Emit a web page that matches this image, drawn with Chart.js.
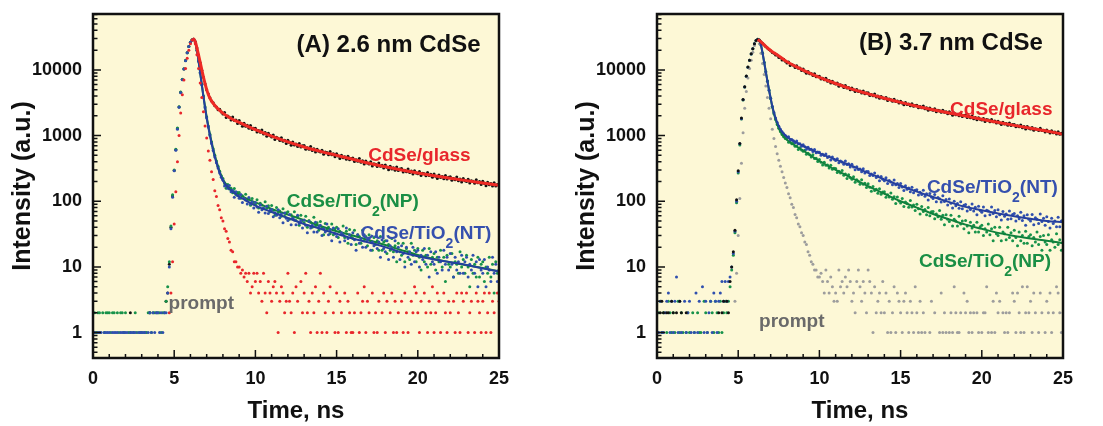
<!DOCTYPE html>
<html>
<head>
<meta charset="utf-8">
<script src="https://cdn.jsdelivr.net/npm/chart.js@4.4.1/dist/chart.umd.min.js"></script>
<style>
  html, body { margin: 0; padding: 0; background: #fff; }
  body { width: 1103px; height: 426px; position: relative; overflow: hidden; }
  canvas { position: absolute; top: 0; }
  #panelA { left: 0; }
  #panelB { left: 551px; }
</style>
</head>
<body>
<canvas id="panelA" width="551" height="426"></canvas>
<canvas id="panelB" width="552" height="426"></canvas>
<script>
const _ = null;
const timeStep = 0.1; // ns per channel, one row per ns

const xTickValues = [0, 5, 10, 15, 20, 25];
const yTickValues = [1, 10, 100, 1000, 10000];

// ---------- (A) 2.6 nm CdSe : counts per channel ----------
const glassA = [
  [_,_,_,_,_,_,_,_,_,_],
  [_,_,_,_,_,_,_,_,_,_],
  [_,_,_,2,_,_,_,_,_,_],
  [_,_,_,_,_,2,_,_,_,_],
  [_,_,_,_,_,3,4,11,40,120],
  [295,610,1280,2720,4550,7150,10350,13850,18250,22750],
  [26350,28650,29400,26800,21500,16800,12900,9900,7700,6100],
  [5000,4300,3750,3350,3150,2850,2730,2480,2520,2280],
  [2130,2240,1890,1990,1900,1730,1910,1690,1720,1530],
  [1690,1530,1390,1540,1390,1430,1290,1420,1240,1290],
  [1290,1130,1190,1120,1220,1060,1110,980,1080,990],
  [950,1020,870,940,910,840,930,820,845,760],
  [850,780,710,800,720,745,680,755,670,700],
  [705,620,655,620,680,595,630,560,620,575],
  [560,600,520,560,550,510,570,510,530,475],
  [530,488,447,503,458,474,435,484,428,449],
  [457,403,428,405,446,391,413,368,411,381],
  [369,398,345,373,366,339,381,342,354,320],
  [356,329,302,340,311,323,297,332,294,309],
  [315,279,297,281,310,273,289,259,290,270],
  [262,283,246,267,263,244,275,247,258,232],
  [260,241,222,250,229,239,220,246,219,231],
  [235,209,222,212,234,206,219,197,221,206],
  [200,216,189,205,202,188,212,191,199,180],
  [201,186,172,194,178,186,171,192,170,180],
  [174]
];
const ntA = [
  [1,1,_,1,1,1,_,1,1,1],
  [1,_,1,1,1,1,_,1,1,1],
  [1,1,_,1,1,1,1,_,1,1],
  [1,1,1,_,1,2,1,2,1,2],
  [2,1,2,1,2,2,4,10,38,115],
  [290,600,1250,2700,4500,7100,10300,13800,18200,22700],
  [26300,28600,29400,26500,19800,13600,9000,5900,3900,2650],
  [1850,1350,1000,760,590,470,385,320,270,232],
  [211,170,175,157,173,139,146,115,139,121],
  [111,127,96,110,104,91,114,91,97,79],
  [96,82,68,88,74,79,66,84,65,73],
  [75,58,67,61,74,56,64,47,66,55],
  [51,63,44,55,52,44,61,46,51,39],
  [52,43,33,49,39,43,34,48,34,41],
  [43,30,38,34,45,31,37,25,39,32],
  [29,38,24,33,31,25,39,27,31,22],
  [33,26,18,31,23,27,20,31,20,26],
  [27,18,24,21,29,19,24,14,26,19],
  [17,25,13,21,19,14,25,17,20,13],
  [21,16,10,20,14,17,11,20,12,17],
  [18,10,15,13,19,11,15,7,17,12],
  [11,17,8,14,12,9,18,11,14,9],
  [16,11,7,14,9,12,8,15,8,12],
  [14,7,11,9,15,8,12,5,13,9],
  [8,13,5,10,9,6,14,8,11,6],
  [9]
];
const npA = [
  [2,2,1,2,2,_,2,1,2,2],
  [2,1,2,2,_,2,1,2,2,1],
  [2,_,1,1,_,1,2,1,_,1],
  [1,_,1,1,2,2,1,2,2,2],
  [2,2,1,2,2,3,5,12,42,125],
  [300,620,1300,2750,4600,7200,10400,13900,18300,22800],
  [26400,28700,29400,26600,19900,13700,9100,6000,4000,2750],
  [1920,1400,1050,800,630,500,410,340,285,245],
  [221,187,158,180,154,157,135,156,127,136],
  [136,111,121,111,128,102,111,87,110,96],
  [90,105,79,93,88,77,98,78,85,69],
  [86,73,61,80,66,71,59,77,59,67],
  [69,53,62,56,69,51,59,43,61,51],
  [47,59,40,51,48,40,57,42,47,36],
  [49,40,31,46,36,40,32,45,31,38],
  [40,28,35,31,42,28,35,23,37,29],
  [27,36,22,31,29,23,36,25,29,21],
  [31,24,18,28,22,25,18,29,18,24],
  [25,16,22,18,27,17,21,12,23,17],
  [15,23,12,19,17,13,23,15,18,12],
  [19,14,9,18,12,15,10,19,11,14],
  [16,9,14,12,18,10,14,6,15,11],
  [10,16,7,12,11,8,17,10,13,8],
  [15,10,5,13,8,11,7,14,7,11],
  [12,6,10,8,14,7,11,4,12,8],
  [9]
];
const promptA = [
  [_,_,_,_,_,_,_,_,_,_],
  [_,_,_,_,_,_,_,_,_,_],
  [_,_,_,_,_,_,_,_,_,_],
  [_,_,_,_,_,_,_,_,_,_],
  [_,_,_,_,_,_,_,2,4,12],
  [45,140,400,1000,2200,4200,7000,10500,15000,20000],
  [25000,28500,29500,25000,17000,10500,6300,3800,2300,1400],
  [920,580,420,280,215,145,118,86,74,56],
  [50,38,35,27,24,18,17,12,12,10],
  [10,8,9,7,8,6,8,4,5,8],
  [6,8,4,6,3,8,4,2,6,4],
  [3,5,6,4,1,3,5,4,2,3],
  [8,3,2,4,1,5,3,_,6,2],
  [4,8,2,3,1,4,2,5,1,3],
  [8,1,4,2,1,3,5,_,2,1],
  [4,1,3,2,_,4,1,3,2,1],
  [1,2,_,4,1,2,3,5,1,3],
  [2,_,4,1,2,1,3,_,2,4],
  [1,3,_,2,4,1,3,1,2,_],
  [3,1,4,2,1,_,3,2,5,4],
  [2,1,3,_,4,2,1,3,2,5],
  [1,2,4,3,1,_,4,2,1,3],
  [2,_,3,1,4,2,1,4,3,_],
  [4,1,2,3,_,1,4,3,2,1],
  [3,4,1,2,4,1,3,2,_,4],
  [3]
];
// fitted decays (A)
const glassFitTimesA = [6.2, 6.3, 6.4, 6.5, 6.6, 6.7, 6.8, 6.9, 7.0, 7.1, 7.2, 7.4, 7.6, 7.8, 8.0, 8.4, 8.8, 9.2, 9.6, 10, 11, 12, 13, 14, 15, 16, 17, 18, 19, 20, 21, 22, 23, 24, 25];
const glassFitA = [29400, 26800, 21500, 16800, 13000, 10000, 7800, 6200, 5000, 4250, 3700, 3100, 2700, 2420, 2200, 1880, 1670, 1510, 1360, 1230, 980, 800, 670, 575, 500, 435, 380, 336, 300, 270, 245, 224, 206, 190, 175];
const fitTimesA = [6.2, 6.3, 6.4, 6.5, 6.6, 6.7, 6.8, 6.9, 7.0, 7.2, 7.4, 7.6, 7.8, 8.0, 8.4, 8.8, 9.2, 9.6, 10, 11, 12, 13, 14, 15, 16, 17, 18, 19, 20, 21, 22, 23, 24, 25];
const ntFitA = [29400, 26500, 19800, 13600, 9000, 5900, 3900, 2650, 1850, 1000, 590, 385, 270, 205, 154, 128, 110, 97, 86, 68.5, 55.5, 45, 38, 32, 27, 23.5, 20, 16.7, 14.5, 13, 11.8, 10.7, 9.5, 8.5];
const npFitA = [29400, 26600, 19900, 13700, 9100, 6000, 4000, 2750, 1920, 1050, 630, 410, 285, 215, 160, 136, 119, 106, 96, 76.5, 62.5, 51.5, 42, 35, 30, 25.5, 21.5, 18, 15.2, 13.2, 11.8, 10.6, 9.6, 8.6];

// ---------- (B) 3.7 nm CdSe : counts per channel ----------
const glassB = [
  [2,_,2,3,2,_,2,2,_,3],
  [2,_,2,_,3,2,_,_,2,_],
  [_,_,_,_,_,_,_,_,_,_],
  [_,_,_,_,_,_,_,_,2,_],
  [2,3,_,3,2,6,10,17,36,105],
  [290,760,1850,3550,5550,8050,11050,14050,17550,21050],
  [25050,28000,29000,28200,26900,25400,24000,22600,21500,20400],
  [19600,18400,18000,16900,16900,15500,15300,14100,14500,13500],
  [12700,13200,11700,12100,11800,10900,11600,10560,10660,9760],
  [10300,9550,8880,9490,8770,8850,8200,8720,7860,8020],
  [7970,7240,7450,7080,7450,6690,6900,6290,6710,6280],
  [6080,6320,5660,5930,5780,5400,5800,5320,5410,4990],
  [5300,4970,4670,5030,4680,4770,4460,4780,4340,4470],
  [4470,4090,4230,4050,4280,3880,4020,3690,3950,3720],
  [3630,3800,3420,3590,3520,3320,3580,3290,3370,3120],
  [3330,3130,2950,3180,2970,3030,2850,3060,2790,2880],
  [2900,2660,2760,2650,2810,2550,2650,2440,2630,2480],
  [2430,2550,2300,2440,2390,2260,2440,2260,2310,2150],
  [2300,2170,2040,2210,2070,2120,2000,2140,1960,2030],
  [2050,1880,1960,1870,1990,1810,1890,1740,1870,1770],
  [1730,1820,1640,1750,1720,1620,1750,1620,1660,1550],
  [1650,1550,1470,1590,1500,1530,1440,1550,1420,1470],
  [1480,1360,1410,1360,1450,1320,1380,1260,1370,1290],
  [1260,1330,1210,1270,1250,1190,1290,1190,1210,1130],
  [1220,1150,1090,1180,1100,1130,1060,1140,1050,1080],
  [1040]
];
const ntB = [
  [3,1,3,1,1,2,3,4,1,3],
  [1,3,7,1,3,1,_,3,1,2],
  [3,1,_,1,4,1,3,_,5,1],
  [3,1,2,3,1,4,3,1,3,4],
  [6,3,6,3,6,7,10,16,35,100],
  [280,750,1800,3500,5500,8000,11000,14000,17500,21000],
  [25000,28000,29400,28500,24000,18000,13000,9300,6700,4900],
  [3700,2800,2250,1850,1580,1390,1250,1140,1070,1000],
  [941,961,851,872,833,779,827,749,751,688],
  [724,673,621,666,614,617,572,613,548,562],
  [559,503,521,495,525,465,481,426,471,436],
  [418,445,385,410,395,367,409,362,371,333],
  [365,332,301,336,303,310,280,312,270,283],
  [283,246,261,246,270,229,242,205,239,216],
  [206,227,186,207,197,179,210,179,187,162],
  [186,165,146,172,152,159,139,164,135,147],
  [149,124,137,127,147,119,130,104,131,116],
  [110,127,98,114,109,97,121,99,106,88],
  [108,93,79,100,85,92,78,98,77,87],
  [89,71,82,75,91,71,81,62,84,72],
  [68,82,60,73,71,62,82,65,72,58],
  [74,62,52,70,59,64,53,71,54,63],
  [65,50,60,54,68,51,60,43,62,53],
  [50,63,44,56,53,46,64,49,55,43],
  [58,49,39,55,46,50,41,57,41,50],
  [52]
];
const npB = [
  [1,2,3,1,2,_,1,3,2,1],
  [2,1,_,3,1,2,1,_,1,2],
  [1,_,2,1,_,2,1,1,_,3],
  [2,1,_,3,2,1,3,2,1,3],
  [1,2,3,2,3,5,9,15,33,95],
  [270,720,1780,3480,5480,7980,10980,13980,17480,20980],
  [24980,27950,29300,28600,24100,18100,13100,9400,6800,4950],
  [3650,2720,2150,1760,1480,1290,1150,1040,960,900],
  [883,793,796,749,771,686,693,614,655,605],
  [575,599,519,539,512,470,509,449,453,404],
  [432,394,357,391,352,356,322,354,306,317],
  [314,273,287,269,293,249,261,221,254,229],
  [216,237,194,213,202,182,213,181,188,162],
  [184,163,142,168,146,152,132,155,128,138],
  [139,115,126,116,133,107,117,92,116,101],
  [94,110,83,97,92,81,103,82,88,72],
  [90,77,64,83,70,75,62,80,60,69],
  [70,54,64,58,72,53,61,44,62,53],
  [49,61,42,53,50,42,59,45,50,38],
  [51,42,33,48,39,43,34,48,34,41],
  [43,30,38,34,45,31,38,25,40,32],
  [30,40,25,34,32,26,40,28,33,25],
  [36,28,21,34,25,30,23,35,23,29],
  [31,21,28,24,34,22,29,18,30,24],
  [22,31,18,26,24,20,32,22,26,18],
  [24]
];
const promptB = [
  [_,_,_,_,_,_,_,_,_,_],
  [_,_,_,_,_,_,_,_,_,_],
  [_,_,_,_,_,_,_,_,_,_],
  [_,_,_,_,_,_,_,_,_,_],
  [_,_,_,_,_,_,_,_,3,8],
  [30,110,380,1100,2600,4700,7500,10500,14000,18500],
  [23500,27500,29000,25000,18000,12500,8500,5700,3800,2600],
  [1800,1250,900,680,530,420,340,280,230,190],
  [162,130,113,90,80,63,56,45,41,33],
  [30,24,22,17,15,12,11,9,9,7],
  [7,8,6,4,9,6,4,7,5,3],
  [4,3,9,5,6,4,7,5,9,6],
  [3,4,2,6,9,5,3,6,4,2],
  [9,6,4,1,5,2,3,4,2,6],
  [2,4,1,3,1,2,5,1,4,3],
  [2,1,3,4,2,1,3,2,1,5],
  [2,1,3,1,2,1,_,_,1,3],
  [_,2,_,_,1,4,1,2,1,_],
  [1,2,1,5,2,1,1,2,_,4],
  [2,3,1,2,1,2,_,2,1,_],
  [1,2,2,5,1,_,1,3,1,4],
  [2,3,_,2,1,2,1,2,_,4],
  [3,1,4,2,1,5,1,2,5,2],
  [3,1,4,2,_,1,4,2,_,1],
  [3,2,4,1,2,_,5,4,2,1],
  [2]
];
// fitted decays (B)
const glassFitTimesB = [6.2, 6.3, 6.4, 6.5, 6.6, 6.8, 7.0, 7.2, 7.5, 8, 8.5, 9, 9.5, 10, 11, 12, 13, 14, 15, 16, 17, 18, 19, 20, 21, 22, 23, 24, 25];
const glassFitB = [29000, 28000, 26800, 25400, 24000, 21600, 19700, 18200, 16300, 13300, 11400, 9900, 8720, 7700, 6200, 5100, 4320, 3700, 3200, 2800, 2480, 2210, 1980, 1770, 1590, 1430, 1290, 1170, 1050];
const fitTimesB = [6.2, 6.3, 6.4, 6.5, 6.6, 6.7, 6.8, 6.9, 7.0, 7.1, 7.3, 7.5, 7.7, 8.0, 8.5, 9, 9.5, 10, 11, 12, 13, 14, 15, 16, 17, 18, 19, 20, 21, 22, 23, 24, 25];
const ntFitB = [29400, 28500, 24000, 18000, 13000, 9300, 6700, 4900, 3700, 2800, 1850, 1390, 1140, 960, 805, 695, 610, 540, 430, 345, 270, 215, 172, 140, 116, 97, 82, 73, 65, 59, 54, 50, 48];
const npFitB = [29300, 28600, 24100, 18100, 13100, 9400, 6800, 4950, 3650, 2720, 1760, 1290, 1040, 860, 705, 590, 490, 410, 300, 225, 170, 130, 100, 80, 64, 53, 44, 38, 33, 29.5, 27, 25, 23];

// ---------- styling ----------
const FONT = "'Liberation Sans', Arial, Helvetica, sans-serif";
const INK = '#111111';
const PLOT_BG = '#fdf8d6';
const RED = '#e8262b';
const BLUE = '#2f4fae';
const GREEN = '#17924a';
const GRAY = '#9d9d9d';

function series(rows) {
  const pts = [];
  rows.forEach((row, r) => row.forEach((v, j) => {
    if (v !== null) pts.push({ x: +(r + j * timeStep).toFixed(1), y: v });
  }));
  return pts;
}
function curve(times, values) {
  return times.map((t, i) => ({ x: t, y: values[i] }));
}
function dots(rows, color, order) {
  return {
    data: series(rows), showLine: false, order,
    pointRadius: 1.5, pointHoverRadius: 0, pointBorderWidth: 0,
    pointBackgroundColor: color, borderColor: color
  };
}
function fitLine(times, values, color, width, order) {
  return {
    data: curve(times, values), showLine: true, order,
    borderColor: color, borderWidth: width, pointRadius: 0,
    cubicInterpolationMode: 'monotone'
  };
}

// plot background, frame and inward ticks
const framePlugin = {
  id: 'frame',
  beforeDatasetsDraw(chart) {
    const { ctx, chartArea: a } = chart;
    ctx.save();
    ctx.fillStyle = PLOT_BG;
    ctx.fillRect(a.left, a.top, a.right - a.left, a.bottom - a.top);
    ctx.restore();
  },
  afterDatasetsDraw(chart) {
    const { ctx, chartArea: a, scales: { x, y } } = chart;
    ctx.save();
    ctx.strokeStyle = INK;
    ctx.lineWidth = 1.5;
    ctx.beginPath();
    for (let t = 0; t <= 25; t++) {
      const px = x.getPixelForValue(t);
      const len = t % 5 === 0 ? 8 : 4;
      ctx.moveTo(px, a.bottom);
      ctx.lineTo(px, a.bottom - len);
    }
    for (let e = -1; e <= 4; e++) {
      for (let m = 1; m <= 9; m++) {
        const v = m * Math.pow(10, e);
        if (v < y.min || v > y.max) continue;
        const py = y.getPixelForValue(v);
        ctx.moveTo(a.left, py);
        ctx.lineTo(a.left + (m === 1 ? 8 : 4.5), py);
      }
    }
    ctx.stroke();
    ctx.lineWidth = 2.5;
    ctx.strokeRect(a.left, a.top, a.right - a.left, a.bottom - a.top);
    ctx.restore();
  }
};

// in-plot text; odd parts are subscripts
function notesPlugin(notes) {
  return {
    id: 'notes',
    afterDatasetsDraw(chart) {
      const { ctx, scales: { x, y } } = chart;
      ctx.save();
      ctx.textBaseline = 'alphabetic';
      ctx.textAlign = 'left';
      notes.forEach(n => {
        const big = `bold ${n.size}px ${FONT}`;
        const small = `bold ${Math.round(n.size * 0.74)}px ${FONT}`;
        const widths = n.parts.map((p, i) => {
          ctx.font = i % 2 ? small : big;
          return ctx.measureText(p).width;
        });
        let px = x.getPixelForValue(n.t) - widths.reduce((s, w) => s + w, 0) / 2;
        const py = y.getPixelForValue(n.v);
        ctx.fillStyle = n.color;
        n.parts.forEach((p, i) => {
          ctx.font = i % 2 ? small : big;
          ctx.fillText(p, px, py + (i % 2 ? 9 : 0));
          px += widths[i];
        });
      });
      ctx.restore();
    }
  };
}

function makePanel(canvasId, datasets, notes, yAxisWidth, rightPad, yTitlePad) {
  const tickFont = { family: FONT, size: 18, weight: 'bold' };
  return new Chart(document.getElementById(canvasId), {
    type: 'scatter',
    data: { datasets },
    options: {
      responsive: false,
      animation: false,
      events: [],
      layout: { autoPadding: false, padding: { left: 0, right: rightPad, top: 14, bottom: 0 } },
      plugins: { legend: { display: false }, tooltip: { enabled: false } },
      scales: {
        x: {
          type: 'linear', min: 0, max: 25,
          grid: { display: false, drawTicks: false },
          border: { display: false },
          afterBuildTicks: (s) => { s.ticks = xTickValues.map(v => ({ value: v })); },
          afterFit: (s) => { s.height = 68; s.paddingLeft = 0; s.paddingRight = 0; },
          ticks: { padding: 10, maxRotation: 0, autoSkip: false, color: INK, font: tickFont },
          title: {
            display: true, text: 'Time, ns', color: INK,
            font: { family: FONT, size: 24, weight: 'bold' }, padding: { top: 0, bottom: 0 }
          }
        },
        y: {
          type: 'logarithmic', min: 0.41, max: 71000,
          grid: { display: false, drawTicks: false },
          border: { display: false },
          afterBuildTicks: (s) => { s.ticks = yTickValues.map(v => ({ value: v })); },
          afterFit: (s) => { s.width = yAxisWidth; s.paddingTop = 0; s.paddingBottom = 0; },
          ticks: { padding: 11, autoSkip: false, color: INK, font: tickFont, callback: (v) => String(v) },
          title: {
            display: true, text: 'Intensity (a.u.)', color: INK,
            font: { family: FONT, size: 25, weight: 'bold' }, padding: { top: yTitlePad, bottom: 0 }
          }
        }
      }
    },
    plugins: [framePlugin, notesPlugin(notes)]
  });
}

makePanel('panelA', [
  dots(promptA, RED, 1),
  fitLine(glassFitTimesA, glassFitA, '#ee2a24', 3, 2),
  fitLine(fitTimesA, ntFitA, '#253f9e', 2, 3),
  dots(ntA, BLUE, 4),
  fitLine(fitTimesA, npFitA, '#10803c', 2, 5),
  dots(npA, GREEN, 6),
  dots(glassA, INK, 7)
], [
  { parts: ['(A) 2.6 nm CdSe'], t: 18.2, v: 18700, color: INK, size: 24 },
  { parts: ['CdSe/glass'], t: 20.1, v: 414, color: RED, size: 19 },
  { parts: ['CdSe/TiO', '2', '(NP)'], t: 16.0, v: 82, color: '#1a8f45', size: 19 },
  { parts: ['CdSe/TiO', '2', '(NT)'], t: 20.5, v: 27, color: '#3550ae', size: 19 },
  { parts: ['prompt'], t: 6.67, v: 2.27, color: '#6a6a6a', size: 19 }
], 93, 52, 8.5);

makePanel('panelB', [
  fitLine(glassFitTimesB, glassFitB, '#ee2a24', 3, 1),
  dots(glassB, INK, 2),
  fitLine(fitTimesB, ntFitB, '#253f9e', 2, 3),
  fitLine(fitTimesB, npFitB, '#10803c', 2, 4),
  dots(promptB, GRAY, 5),
  dots(ntB, BLUE, 6),
  dots(npB, GREEN, 7)
], [
  { parts: ['(B) 3.7 nm CdSe'], t: 18.1, v: 19900, color: INK, size: 24 },
  { parts: ['CdSe/glass'], t: 21.2, v: 2040, color: RED, size: 19 },
  { parts: ['CdSe/TiO', '2', '(NT)'], t: 20.65, v: 132, color: '#3550ae', size: 19 },
  { parts: ['CdSe/TiO', '2', '(NP)'], t: 20.2, v: 10, color: '#1a8f45', size: 19 },
  { parts: ['prompt'], t: 8.3, v: 1.2, color: '#6a6a6a', size: 19 }
], 106, 40, 21);
</script>
</body>
</html>
